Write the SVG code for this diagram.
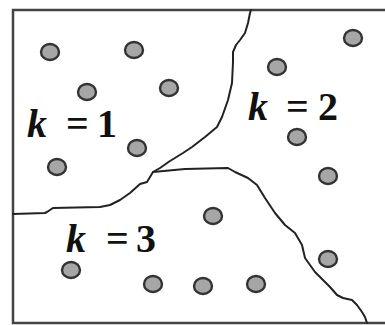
<svg xmlns="http://www.w3.org/2000/svg" width="385" height="325" viewBox="0 0 385 325">
<style>
.pt{fill:#a6a6a6;stroke:#333;stroke-width:2.4}
.bd{fill:none;stroke:#222;stroke-width:2;stroke-linejoin:round;stroke-linecap:round}
.fr{fill:none;stroke:#444;stroke-width:2.5}
.lb{font-family:"Liberation Serif","Times New Roman",serif;font-weight:bold;font-size:40px;fill:#111}
.k{font-style:italic}
</style>
<rect width="385" height="325" fill="#fff"/>
<path class="fr" d="M386,10 H13 V323 H386"/>
<g id="connectors">
<path class="bd" d="M251,10 L250,13 L248,23 L245,33 L240,40 L236,45 L233,52 L233,62 L232,83 L228,100 L222,117 L217,127 L205,137 L192,147 L183,153 L170,161 L160,168 L153,172 L147,182 L140,184 L130,193 L120,200 L110,205 L100,207 L53,208 L47,212 L45,213 L13,214"/>
<path class="bd" d="M153,172 L185,169 L228,168 L235,172 L248,178 L257,185 L265,198 L275,213 L285,225 L295,233 L302,245 L305,258 L315,272 L322,279 L330,287 L337,295 L343,298 L352,300 L357,305 L362,312 L365,317 L367,323"/>
</g>
<g id="cluster1">
<ellipse class="pt" cx="50" cy="52" rx="9" ry="8"/>
<ellipse class="pt" cx="134" cy="50" rx="9" ry="8"/>
<ellipse class="pt" cx="87" cy="92" rx="9" ry="8"/>
<ellipse class="pt" cx="169" cy="88" rx="9" ry="8"/>
<ellipse class="pt" cx="137" cy="148" rx="9" ry="8"/>
<ellipse class="pt" cx="57" cy="167" rx="9" ry="8"/>
<text class="lb" y="137"><tspan class="k" x="27">k</tspan><tspan x="66">=</tspan><tspan x="97">1</tspan></text>
</g>
<g id="cluster2">
<ellipse class="pt" cx="353" cy="38" rx="9" ry="8"/>
<ellipse class="pt" cx="277" cy="67" rx="9" ry="8"/>
<ellipse class="pt" cx="297" cy="137" rx="9" ry="8"/>
<ellipse class="pt" cx="328" cy="176" rx="9" ry="8"/>
<ellipse class="pt" cx="328" cy="259" rx="9" ry="8"/>
<text class="lb" y="120"><tspan class="k" x="248">k</tspan><tspan x="286">=</tspan><tspan x="318">2</tspan></text>
</g>
<g id="cluster3">
<ellipse class="pt" cx="213" cy="216" rx="9" ry="8"/>
<ellipse class="pt" cx="71" cy="270" rx="9" ry="8"/>
<ellipse class="pt" cx="153" cy="284" rx="9" ry="8"/>
<ellipse class="pt" cx="203" cy="286" rx="9" ry="8"/>
<ellipse class="pt" cx="256" cy="284" rx="9" ry="8"/>
<text class="lb" y="252"><tspan class="k" x="66">k</tspan><tspan x="106">=</tspan><tspan x="136">3</tspan></text>
</g>
</svg>
